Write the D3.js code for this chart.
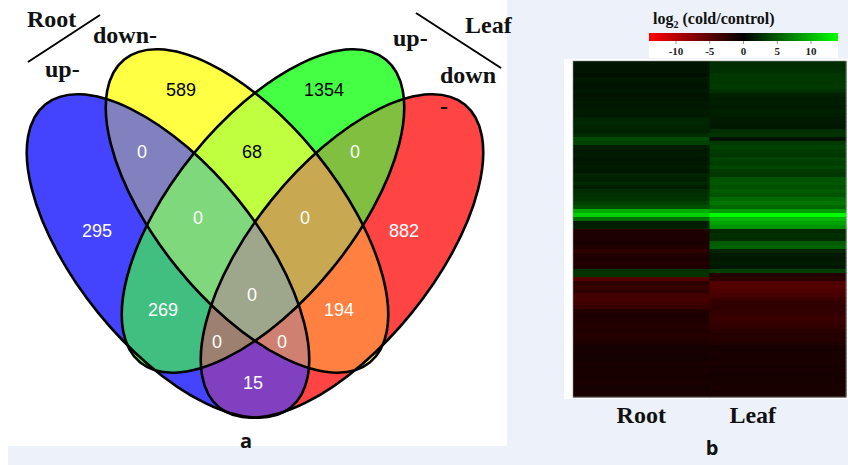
<!DOCTYPE html>
<html><head><meta charset="utf-8">
<script src="https://cdn.jsdelivr.net/npm/d3@7"></script>
<style>body{margin:0;background:#edf2fa;} svg{display:block}</style>
</head><body>
<svg id="c" width="848" height="465"></svg>
<script>
// ---------- DATA ----------
const setNames = ["Root up-", "Root down-", "Leaf up-", "Leaf down-"];
const regionKeys = ["1000","0100","0010","0001","1100","0110","0011","1010","0101","1001","1110","0111","1011","1101","1111"];
const regionCounts = [295, 589, 1354, 882, 0, 68, 0, 269, 194, 15, 0, 0, 0, 0, 0];

const heatColumns = ["Root", "Leaf"];
const rootVals = [
  1.2, 1.0, 1.1, 0.9, 1.3, 1.2, 1.0, 1.3, 1.1, 1.2,
  1.4, 1.3, 1.5, 1.4, 2.0, 2.2, 2.0, 1.8, 2.4, 4.0,
  3.6, 1.6, 1.3, 1.5, 1.2, 1.4, 1.6, 1.3, 1.9, 1.7,
  2.2, 1.6, 2.4, 2.6, 2.8, 3.5, 4.5, 9.5, 11.5, 6.0,
  1.5, 1.8, -1.8, -1.6, -1.7, -1.5, -1.8, -2.6, -1.8, -1.6,
  -1.9, -1.7, 2.6, 2.8, -4.5, -2.4, -3.0, -2.6, -3.6, -3.9,
  -3.5, -3.0, -1.8, -1.4, -1.7, -1.9, -2.0, -1.8, -2.1, -1.9,
  -1.7, -1.1, -1.3, -1.2, -1.0, -1.4, -1.2, -1.5, -1.3, -1.2,
  -1.4, -1.1, -1.3, -1.2
];
const leafVals = [
  2.4, 2.5, 2.6, 3.0, 3.1, 3.0, 3.2, 2.6, 1.8, 1.6,
  1.7, 1.5, 1.8, 1.6, 1.5, 1.4, 1.3, 2.5, 2.8, 1.0,
  3.2, 3.6, 3.3, 3.0, 3.6, 3.4, 3.8, 3.2, 3.0, 4.6,
  4.8, 4.4, 5.0, 4.6, 5.8, 6.4, 5.6, 8.5, 14, 10,
  9.0, 8.0, 2.2, 2.6, 2.4, 5.0, 5.4, 2.0, 1.5, 1.3,
  1.6, 1.2, 3.5, -2.0, -2.4, -4.4, -4.6, -4.2, -4.0, -3.2,
  -2.8, -2.6, -2.7, -3.0, -3.2, -3.0, -2.8, -2.2, -2.0, -2.1,
  -1.8, -1.3, -1.2, -1.4, -1.3, -1.5, -1.2, -1.3, -1.1, -1.3,
  -1.2, -1.4, -1.3, -1.2
];
const legendTicks = [-10, -5, 0, 5, 10];
const legendDomain = [-14, 14];

// ---------- LAYOUT / STYLE ----------
const ell = [
  {cx:168, cy:256, rot:51},
  {cx:247, cy:211, rot:51},
  {cx:263, cy:211, rot:-51},
  {cx:342, cy:256, rot:-51}
];
const RX = 195, RY = 90;
const regionFill = {
  "1000":"#4444ff","0100":"#ffff44","0010":"#44ff44","0001":"#ff4444",
  "1100":"#8181bf","0110":"#c0ff40","0011":"#80bf40","1010":"#40bf80",
  "0101":"#ff8040","1001":"#8040c0","1110":"#80d87c","0111":"#c8a850",
  "1011":"#9e8070","1101":"#d08070","1111":"#9ea68c"
};
const labelPos = {
  "1000":[97,231],"0100":[181,90],"0010":[324,90],"0001":[404,231],
  "1100":[142,152],"0110":[252,152],"0011":[355,152],"1010":[163,310],
  "0101":[339,310],"1001":[253,383],"1110":[198,218],"0111":[305,218],
  "1011":[217,342],"1101":[282,342],"1111":[252,295]
};
const darkLabel = new Set(["0100","0010","0110"]);
const serif = "'Liberation Serif','Times New Roman',serif";
const sans = "'Liberation Sans',Arial,sans-serif";

const svg = d3.select("#c");
svg.append("rect").attr("width",848).attr("height",465).attr("fill","#edf2fa");
svg.append("rect").attr("x",0).attr("y",0).attr("width",507).attr("height",446).attr("fill","#fff");
svg.append("rect").attr("x",0).attr("y",0).attr("width",8).attr("height",465).attr("fill","#fff");
svg.append("rect").attr("x",564).attr("y",59).attr("width",284).attr("height",340).attr("fill","#fff");
svg.append("rect").attr("x",649).attr("y",33).attr("width",189).attr("height",25).attr("fill","#fff");

// ---------- VENN ----------
const defs = svg.append("defs");
ell.forEach((e,i)=>{
  defs.append("clipPath").attr("id","clip"+i)
    .append("ellipse").attr("cx",e.cx).attr("cy",e.cy).attr("rx",RX).attr("ry",RY)
    .attr("transform",`rotate(${e.rot} ${e.cx} ${e.cy})`);
});
const vg = svg.append("g");
const regions = regionKeys.map((k,i)=>({key:k, count:regionCounts[i],
  members:[0,1,2,3].filter(j=>k[j]==="1")}));
regions.slice().sort((a,b)=>a.members.length-b.members.length).forEach(r=>{
  let g = vg;
  r.members.slice(0,-1).forEach(m=>{ g = g.append("g").attr("clip-path",`url(#clip${m})`); });
  const e = ell[r.members[r.members.length-1]];
  g.append("ellipse").attr("cx",e.cx).attr("cy",e.cy).attr("rx",RX).attr("ry",RY)
    .attr("transform",`rotate(${e.rot} ${e.cx} ${e.cy})`).attr("fill",regionFill[r.key]);
});
vg.selectAll("ellipse.outline").data(ell).join("ellipse").attr("class","outline")
  .attr("cx",d=>d.cx).attr("cy",d=>d.cy).attr("rx",RX).attr("ry",RY)
  .attr("transform",d=>`rotate(${d.rot} ${d.cx} ${d.cy})`)
  .attr("fill","none").attr("stroke","#000").attr("stroke-width",2.6);
vg.selectAll("text.cnt").data(regions).join("text").attr("class","cnt")
  .attr("x",d=>labelPos[d.key][0]).attr("y",d=>labelPos[d.key][1]).attr("dy","0.36em")
  .attr("text-anchor","middle").attr("font-family",sans).attr("font-size",18)
  .attr("fill",d=>darkLabel.has(d.key)?"#000":"#fff").text(d=>d.count);

// set labels
const lab = (t,x,y)=>svg.append("text").attr("x",x).attr("y",y).attr("font-family",serif)
  .attr("font-weight","bold").attr("font-size",24).attr("fill","#111").text(t);
lab("Root",27,27); lab("down-",93,43); lab("up-",45,77);
lab("Leaf",465,33); lab("up-",393,46); lab("down",440,83); lab("-",440,114);
svg.append("line").attr("x1",28).attr("y1",62).attr("x2",100).attr("y2",15).attr("stroke","#000").attr("stroke-width",2);
svg.append("line").attr("x1",416).attr("y1",13).attr("x2",501).attr("y2",68).attr("stroke","#000").attr("stroke-width",2);
svg.append("text").attr("x",246).attr("y",448).attr("text-anchor","middle").attr("font-family","'Open Sans',sans-serif")
  .attr("font-weight","bold").attr("font-size",20).attr("fill","#111").text("a");

// ---------- HEATMAP ----------
const color = d3.scaleLinear().domain([legendDomain[0],0,legendDomain[1]]).range(["#ff0000","#000000","#00ff00"]).clamp(true);
const xh = d3.scaleBand().domain(heatColumns).range([573,846]);
const yh = d3.scaleBand().domain(d3.range(rootVals.length)).range([61,397]);
const cols = [rootVals, leafVals];
const hg = svg.append("g");
heatColumns.forEach((c,ci)=>{
  hg.selectAll(null).data(cols[ci]).join("rect")
    .attr("x",xh(c)).attr("y",(d,i)=>yh(i)).attr("width",xh.bandwidth()+0.5).attr("height",yh.bandwidth()+0.5)
    .attr("fill",d=>color(d));
});
hg.append("rect").attr("x",573).attr("y",61).attr("width",273).attr("height",336)
  .attr("fill","none").attr("stroke","#8a8a8a").attr("stroke-width",0.6);
const colLabelShift = [0, -25];
svg.selectAll("text.col").data(heatColumns).join("text").attr("class","col")
  .attr("x",(d,i)=>xh(d)+xh.bandwidth()/2+colLabelShift[i]).attr("y",423).attr("text-anchor","middle")
  .attr("font-family",serif).attr("font-weight","bold").attr("font-size",24).attr("fill","#111").text(d=>d);
svg.append("text").attr("x",712).attr("y",455).attr("text-anchor","middle").attr("font-family","'Open Sans',sans-serif")
  .attr("font-weight","bold").attr("font-size",20).attr("fill","#111").text("b");

// legend
const lx = d3.scaleLinear().domain(legendDomain).range([649,838]);
const grad = defs.append("linearGradient").attr("id","lg").attr("x1","0%").attr("x2","100%");
[[0,"#ff0000"],[0.5,"#000000"],[1,"#00ff00"]].forEach(s=>grad.append("stop").attr("offset",s[0]).attr("stop-color",s[1]));
svg.append("rect").attr("x",lx(legendDomain[0])).attr("y",33).attr("width",lx(legendDomain[1])-lx(legendDomain[0])).attr("height",8).attr("fill","url(#lg)");
svg.selectAll("line.lt").data(legendTicks).join("line").attr("class","lt")
  .attr("x1",d=>lx(d)).attr("x2",d=>lx(d)).attr("y1",41).attr("y2",44).attr("stroke","#999").attr("stroke-width",1);
svg.selectAll("text.lt").data(legendTicks).join("text").attr("class","lt")
  .attr("x",d=>lx(d)).attr("y",55).attr("text-anchor","middle").attr("font-family",serif)
  .attr("font-weight","bold").attr("font-size",11).attr("fill","#222").text(d=>d);
const tt = svg.append("text").attr("x",653).attr("y",24).attr("font-family",serif).attr("font-weight","bold")
  .attr("font-size",16).attr("fill","#111");
tt.append("tspan").text("log");
tt.append("tspan").attr("font-size",10).attr("dy",4).text("2");
tt.append("tspan").attr("dy",-4).text(" (cold/control)");
</script>
</body></html>
